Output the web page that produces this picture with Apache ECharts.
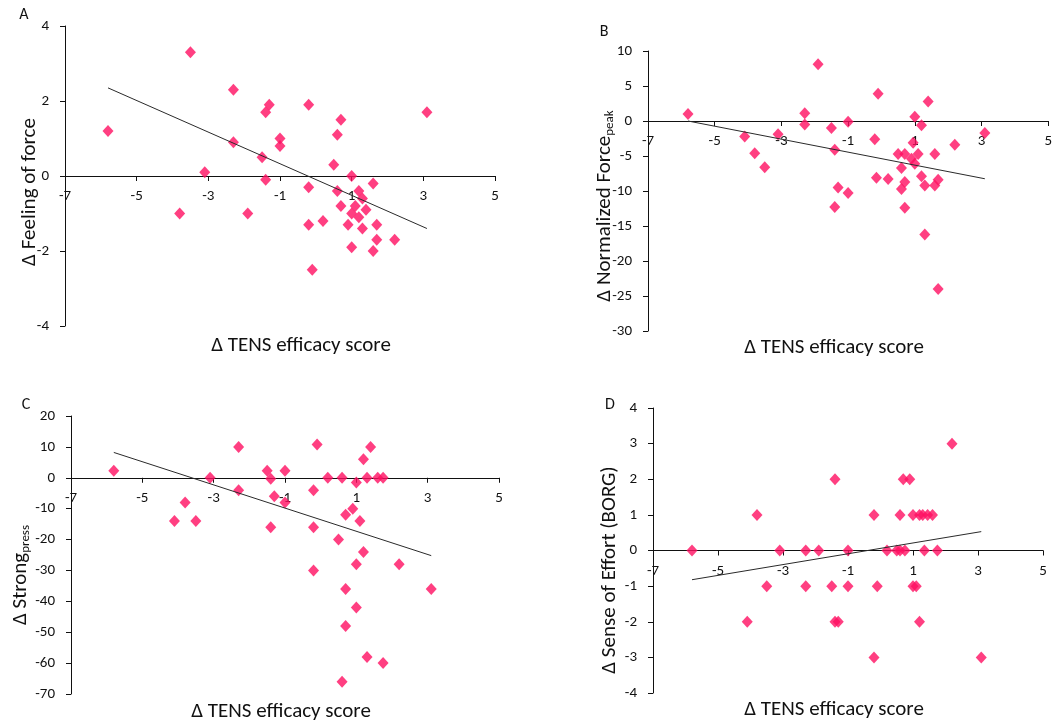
<!DOCTYPE html>
<html>
<head>
<meta charset="utf-8">
<script src="https://cdn.jsdelivr.net/npm/echarts@6/dist/echarts.min.js"></script>
<style>
  html, body { margin: 0; padding: 0; background: #fff; }
  #chart { width: 1055px; height: 721px; }
</style>
</head>
<body>
<div id="chart"></div>
<script>
// Δ TENS efficacy score (x) against four outcome changes, one panel each.

// Panel A: Δ feeling of force
const efficacyA = [-5.8, -3.5, -3.1, -3.8, -2.3, -2.3, -1.9, -1.5, -1.4, -1.3, -1.4, -1.0, -1.0, -0.2, -0.2, -0.2, -0.1, 0.2, 0.5, 0.6, 0.7, 0.6, 0.7, 1.0, 0.9, 1.0, 1.0, 1.1, 1.2, 1.2, 1.3, 1.4, 1.3, 1.6, 1.7, 1.7, 1.6, 2.2, 3.1];
const feelingForce = [1.2, 3.3, 0.1, -1.0, 2.3, 0.9, -1.0, 0.5, 1.7, 1.9, -0.1, 1.0, 0.8, 1.9, -0.3, -1.3, -2.5, -1.2, 0.3, 1.1, 1.5, -0.4, -0.8, 0.0, -1.3, -1.0, -1.9, -0.8, -0.4, -1.1, -0.6, -0.9, -1.4, -0.2, -1.3, -1.7, -2.0, -1.7, 1.7];
const trendA = [[-5.8, 2.35], [3.1, -1.4]];

// Panel B: Δ normalized peak force
const efficacyB = [-5.8, -4.1, -3.8, -3.5, -3.1, -2.3, -2.3, -1.9, -1.5, -1.4, -1.4, -1.3, -1.0, -1.0, -0.2, -0.15, -0.1, 0.2, 0.5, 0.6, 0.6, 0.7, 0.7, 0.7, 0.9, 1.0, 0.95, 1.0, 1.1, 1.2, 1.2, 1.3, 1.3, 1.4, 1.6, 1.6, 1.7, 1.7, 2.2, 3.1];
const forcePeak = [1.0, -2.2, -4.6, -6.6, -1.9, 1.1, -0.5, 8.1, -1.0, -4.1, -12.3, -9.5, -0.1, -10.3, -2.6, -8.1, 3.9, -8.3, -4.7, -6.7, -9.7, -4.7, -8.7, -12.4, -5.4, 0.6, -3.1, -6.1, -4.7, -0.6, -7.9, -9.2, -16.2, 2.8, -4.7, -9.2, -8.4, -24.0, -3.4, -1.7];
const trendB = [[-5.8, 0.0], [3.1, -8.25]];

// Panel C: Δ strong press
const efficacyC = [-5.8, -4.1, -3.8, -3.5, -3.1, -2.3, -2.3, -1.5, -1.4, -1.4, -1.3, -1.0, -1.0, -0.2, -0.2, -0.2, -0.1, 0.2, 0.5, 0.6, 0.6, 0.7, 0.7, 0.7, 0.9, 1.0, 1.0, 1.0, 1.1, 1.2, 1.2, 1.3, 1.3, 1.4, 1.6, 1.75, 1.75, 2.2, 3.1];
const strongPress = [2.3, -14, -8, -14, 0, 10, -4, 2.3, -0.3, -16, -6, 2.3, -8, -4, -16, -30, 10.8, 0, -20, 0, -66, -12, -36, -48, -10, -1.5, -28, -42, -14, 6, -24, 0, -58, 10, 0, 0, -60, -28, -36];
const trendC = [[-5.8, 8.2], [3.1, -25.2]];

// Panel D: Δ sense of effort (BORG)
const efficacyD = [-5.8, -4.1, -3.8, -3.5, -3.1, -2.3, -2.3, -1.9, -1.5, -1.4, -1.4, -1.3, -1.0, -1.0, -0.2, -0.2, -0.1, 0.2, 0.5, 0.6, 0.6, 0.7, 0.75, 0.9, 1.0, 1.0, 1.1, 1.2, 1.2, 1.3, 1.35, 1.45, 1.6, 1.75, 2.2, 3.1];
const effortBorg = [0, -2, 1, -1, 0, 0, -1, 0, -1, 2, -2, -2, 0, -1, 1, -3, -1, 0, 0, 1, 0, 2, 0, 2, 1, -1, -1, 1, -2, 1, 0, 1, 1, 0, 3, -3];
const trendD = [[-5.8, -0.82], [3.1, 0.53]];

// x-axis ticks shared by all panels
const xTicks = { min: -7, max: 5, interval: 2 };

const FONT = "Carlito, Lato, 'Open Sans', sans-serif";
const PINK = '#ff0f62';
const INK = '#111';

const panels = [
  { grid: { left: 65, top: 26, width: 430, height: 300 }, y: { min: -4, max: 4, interval: 2 }, xs: efficacyA, ys: feelingForce, trend: trendA },
  { grid: { left: 648, top: 51, width: 401, height: 280 }, y: { min: -30, max: 10, interval: 5 }, xs: efficacyB, ys: forcePeak, trend: trendB },
  { grid: { left: 71, top: 416, width: 428, height: 278 }, y: { min: -70, max: 20, interval: 10 }, xs: efficacyC, ys: strongPress, trend: trendC },
  { grid: { left: 653, top: 408, width: 390, height: 285 }, y: { min: -4, max: 4, interval: 1 }, xs: efficacyD, ys: effortBorg, trend: trendD }
];

const grids = [], xAxes = [], yAxes = [], series = [];
panels.forEach((p, i) => {
  grids.push(p.grid);
  // the x axis is drawn along y = 0: shift it up from the grid bottom
  const zeroOffset = -p.grid.height * (0 - p.y.min) / (p.y.max - p.y.min);
  xAxes.push({
    type: 'value', gridIndex: i, min: xTicks.min, max: xTicks.max, interval: xTicks.interval,
    position: 'bottom', offset: zeroOffset,
    axisLine: { show: true, onZero: false, lineStyle: { color: INK, width: 1 } },
    axisTick: { show: true, length: 5, lineStyle: { color: INK } },
    axisLabel: { color: INK, fontFamily: FONT, fontSize: 15, margin: 13 },
    splitLine: { show: false }
  });
  yAxes.push({
    type: 'value', gridIndex: i, min: p.y.min, max: p.y.max, interval: p.y.interval,
    axisLine: { show: true, onZero: false, lineStyle: { color: INK, width: 1 } },
    axisTick: { show: true, length: 5, lineStyle: { color: INK } },
    axisLabel: { color: INK, fontFamily: FONT, fontSize: 15, margin: 16 },
    splitLine: { show: false }
  });
  series.push({
    type: 'scatter', xAxisIndex: i, yAxisIndex: i,
    symbol: 'diamond', symbolSize: [11, 12],
    itemStyle: { color: PINK },
    data: p.xs.map((x, k) => [x, p.ys[k]]),
    z: 3
  });
  series.push({
    type: 'line', xAxisIndex: i, yAxisIndex: i,
    data: p.trend, symbol: 'none', silent: true,
    lineStyle: { color: '#2a2a2a', width: 1 },
    z: 4
  });
});

function label(text, x, y, size) {
  return { type: 'text', x: x, y: y, style: { text: text, fill: INK, font: size + 'px ' + FONT, textAlign: 'center', textVerticalAlign: 'middle', align: 'center', verticalAlign: 'middle' } };
}
function yTitle(text, x, y, rich) {
  return {
    type: 'text', x: x, y: y, rotation: Math.PI / 2,
    style: { text: text, fill: INK, font: '21px ' + FONT, textAlign: 'center', textVerticalAlign: 'middle', align: 'center', verticalAlign: 'middle', rich: rich || {} }
  };
}
const subRich = { sub: { fontSize: 13, fontFamily: FONT, fill: INK, verticalAlign: 'bottom', padding: [10, 0, 0, 0] } };

const graphic = [
  label('A', 24, 15, 16), label('B', 604, 32, 16), label('C', 26, 405, 16), label('D', 610, 405, 16),
  label('Δ TENS efficacy score', 301, 346, 21),
  label('Δ TENS efficacy score', 834, 348, 21),
  label('Δ TENS efficacy score', 281, 712, 21),
  label('Δ TENS efficacy score', 834, 710, 21),
  yTitle('Δ Feeling of force', 30, 192),
  yTitle('Δ Normalized Force{sub|peak}', 605, 206, subRich),
  yTitle('Δ Strong{sub|press}', 21, 575, subRich),
  yTitle('Δ Sense of Effort (BORG)', 610, 570)
];

const chart = echarts.init(document.getElementById('chart'), null, { renderer: 'canvas' });
chart.setOption({
  animation: false,
  backgroundColor: '#fff',
  grid: grids,
  xAxis: xAxes,
  yAxis: yAxes,
  series: series,
  graphic: graphic
});
</script>
</body>
</html>
